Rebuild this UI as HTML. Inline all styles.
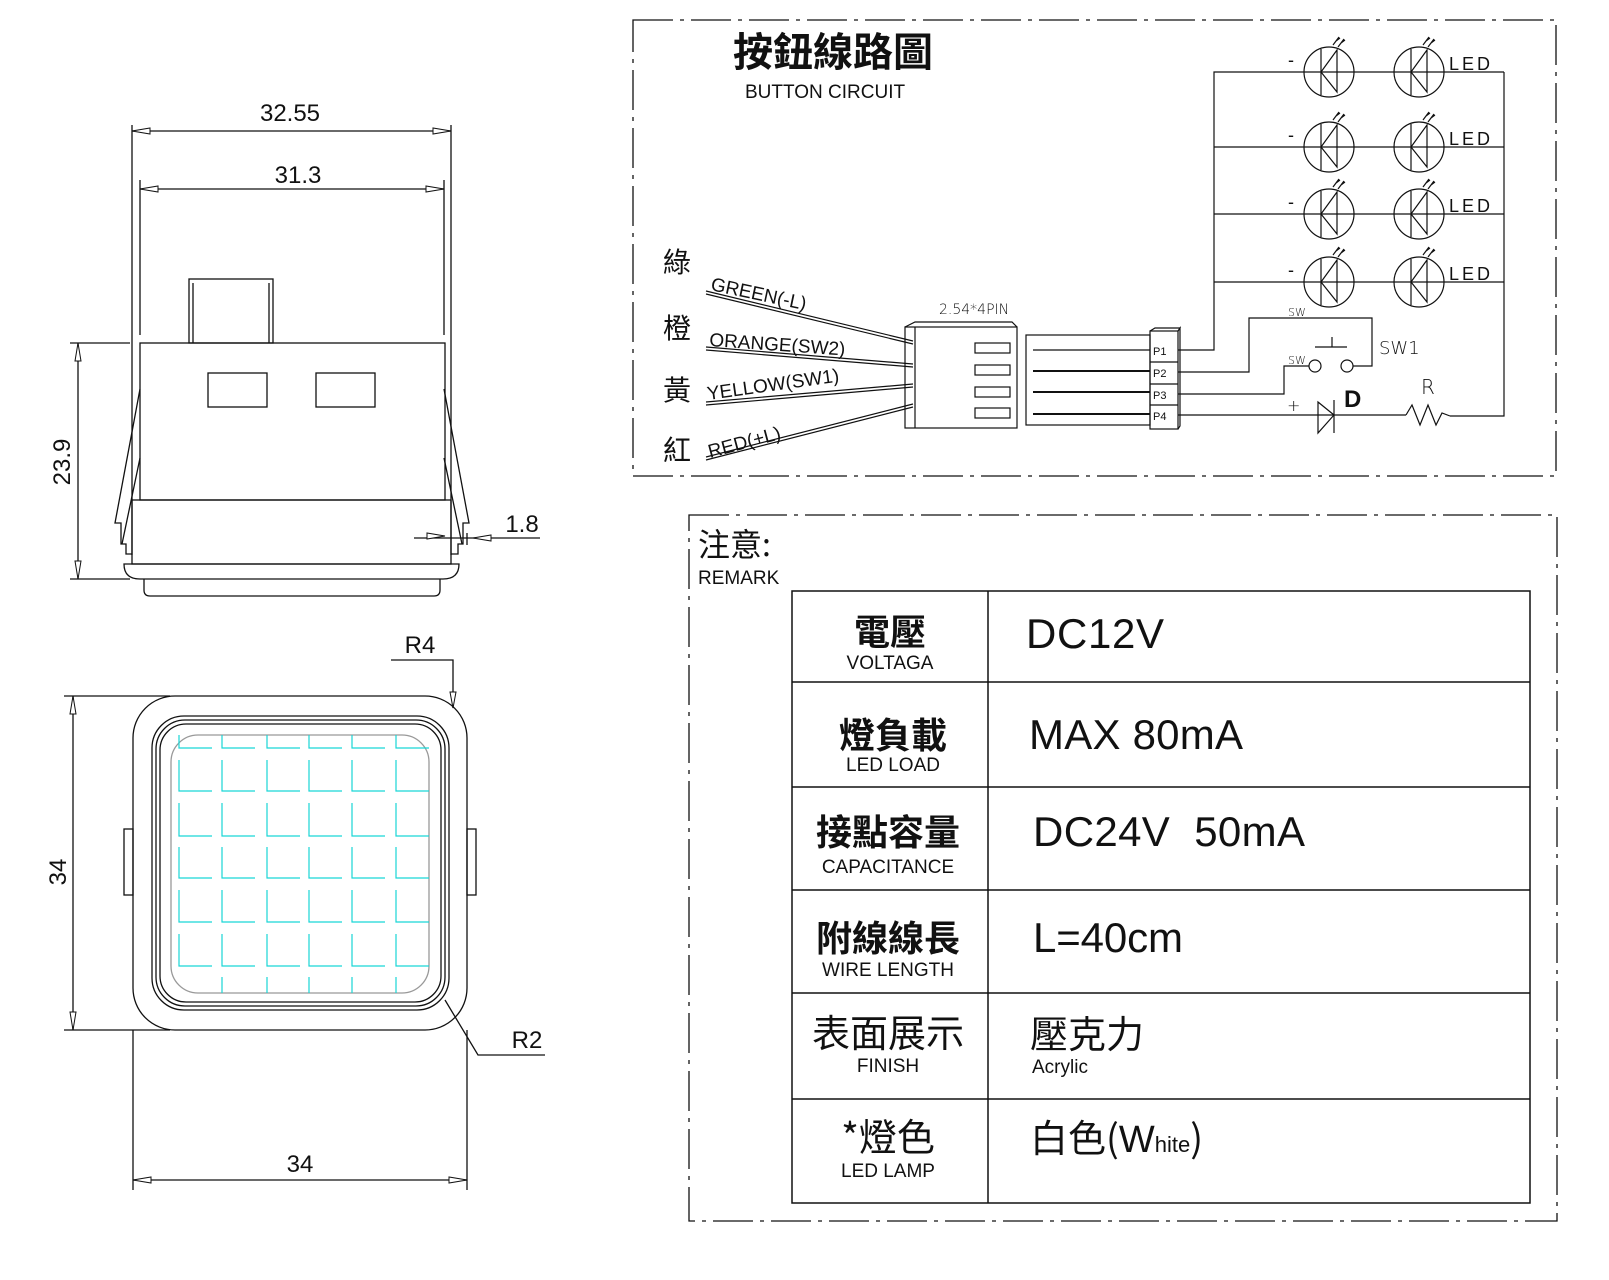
<!DOCTYPE html>
<html><head><meta charset="utf-8"><style>
html,body{margin:0;padding:0;background:#fff;}
svg{display:block;}
text{font-family:"Liberation Sans","Noto Sans CJK TC",sans-serif;fill:#111;}
.cjk{font-family:"Noto Sans CJK TC","Liberation Sans",sans-serif;font-weight:bold;}
.cjkn{font-family:"Noto Sans CJK TC","Liberation Sans",sans-serif;font-weight:normal;}
.th{font-family:"DejaVu Sans","Liberation Sans",sans-serif;font-weight:200;}
</style></head><body>
<svg width="1609" height="1280" viewBox="0 0 1609 1280" xmlns="http://www.w3.org/2000/svg">
<defs>
<g id="led" fill="none" stroke="#111" stroke-width="1.2"><circle cx="0" cy="0" r="25"/><line x1="-8" y1="-23" x2="-8" y2="23"/><path d="M8 -22 L-8 0 L8 20 Z"/><path d="M4 -27 l6 -8 M9 -25 l6 -8 M7 -31 l4 -3 M12 -29 l4 -3"/></g>
</defs>
<g fill="none" stroke="#111" stroke-width="1.3">
<!-- TOP VIEW -->
<line x1="132" y1="125" x2="132" y2="555"/><line x1="451" y1="125" x2="451" y2="555"/>
<line x1="132" y1="131" x2="451" y2="131"/>
<line x1="140" y1="180" x2="140" y2="335"/><line x1="444" y1="180" x2="444" y2="335"/>
<line x1="140" y1="189" x2="444" y2="189"/>
<rect x="189" y="279" width="84" height="64"/><line x1="193" y1="283" x2="193" y2="343"/><line x1="269" y1="283" x2="269" y2="343"/>
<rect x="140" y="343" width="305" height="157"/>
<rect x="208" y="373" width="59" height="34"/><rect x="316" y="373" width="59" height="34"/>
<rect x="132" y="500" width="319" height="64"/>
<path d="M124 564 H459 Q459 579 443 579 H140 Q124 579 124 564 Z"/>
<path d="M144 579 V590 Q144 596 150 596 H434 Q440 596 440 590 V579"/>
<path d="M140 389 L115 523 L121 523 L121 544 L126 544 L126 554 L132 554"/>
<path d="M140 458 L122 544"/>
<path d="M444 389 L469 523 L463 523 L463 544 L458 544 L458 554 L451 554"/>
<path d="M444 458 L462 544"/>
<line x1="70" y1="343" x2="130" y2="343"/><line x1="70" y1="579" x2="130" y2="579"/>
<line x1="78" y1="343" x2="78" y2="579"/>
<line x1="414" y1="538" x2="540" y2="538"/><line x1="467" y1="533" x2="467" y2="545"/>
<!-- BOTTOM VIEW -->
<rect x="133" y="696" width="334" height="334" rx="42"/>
<rect x="124" y="829" width="9" height="66"/><rect x="467" y="829" width="9" height="66"/>
<rect x="152" y="716" width="297" height="294" rx="32"/>
<rect x="156" y="720" width="289" height="286" rx="29"/>
<rect x="160" y="724" width="281" height="278" rx="26"/>
<rect x="171" y="735" width="258" height="258" rx="27" stroke="#999"/>
<line x1="64" y1="696" x2="170" y2="696"/><line x1="64" y1="1030" x2="170" y2="1030"/>
<line x1="73" y1="696" x2="73" y2="1030"/>
<line x1="133" y1="1030" x2="133" y2="1190"/><line x1="467" y1="1030" x2="467" y2="1190"/>
<line x1="133" y1="1180" x2="467" y2="1180"/>
<polyline points="391,660 453,660 453,708"/>
<polyline points="445,1000 478,1055 545,1055"/>
</g>
<g fill="#fff" stroke="#111" stroke-width="1">
<path d="M132 131 l18 -3 v6 z M451 131 l-18 -3 v6 z M140 189 l18 -3 v6 z M444 189 l-18 -3 v6 z"/>
<path d="M78 343 l-3 18 h6 z M78 579 l-3 -18 h6 z M73 696 l-3 18 h6 z M73 1030 l-3 -18 h6 z"/>
<path d="M133 1180 l18 -3 v6 z M467 1180 l-18 -3 v6 z M453 708 l-3 -16 h6 z M445 536 l-18 -3 v6 z M473 538 l18 -3 v6 z"/>
</g>
<g stroke="#19d6d6" stroke-width="1.2" fill="none">
<path d="M179 760 V791 H212 M222 760 V791 H255 M267 760 V791 H300 M309 760 V791 H342 M352 760 V791 H385 M396 760 V791 H429
M179 803 V836 H212 M222 803 V836 H255 M267 803 V836 H300 M309 803 V836 H342 M352 803 V836 H385 M396 803 V836 H429
M179 847 V878 H212 M222 847 V878 H255 M267 847 V878 H300 M309 847 V878 H342 M352 847 V878 H385 M396 847 V878 H429
M179 890 V922 H212 M222 890 V922 H255 M267 890 V922 H300 M309 890 V922 H342 M352 890 V922 H385 M396 890 V922 H429
M179 934 V966 H212 M222 934 V966 H255 M267 934 V966 H300 M309 934 V966 H342 M352 934 V966 H385 M396 934 V966 H429
M179 735 V748 H212 M222 735 V748 H255 M267 735 V748 H300 M309 735 V748 H342 M352 735 V748 H385 M396 735 V748 H429
M222 977 V993 M267 977 V993 M309 977 V993 M352 977 V993 M396 977 V993"/>
</g>
<g class="th" font-size="24">
<text x="290" y="121" text-anchor="middle">32.55</text>
<text x="298" y="183" text-anchor="middle">31.3</text>
<text x="522" y="532" text-anchor="middle">1.8</text>
<text x="300" y="1172" text-anchor="middle">34</text>
<text x="420" y="653" text-anchor="middle">R4</text>
<text x="527" y="1048" text-anchor="middle">R2</text>
<text transform="translate(70,462) rotate(-90)" text-anchor="middle">23.9</text>
<text transform="translate(66,872) rotate(-90)" text-anchor="middle">34</text>
</g>
<!-- CIRCUIT FRAME -->
<rect x="633" y="20" width="923" height="456" fill="none" stroke="#111" stroke-width="1.3" stroke-dasharray="40,7,4,7"/>
<text class="cjk" x="733" y="66" font-size="40">按鈕線路圖</text>
<text x="745" y="98" font-size="19">BUTTON CIRCUIT</text>
<g class="cjkn" font-size="28">
<text x="663" y="272">綠</text><text x="663" y="338">橙</text><text x="663" y="400">黃</text><text x="663" y="460">紅</text>
</g>
<g font-size="19" class="th">
<text transform="translate(710,290) rotate(12)">GREEN(-L)</text>
<text transform="translate(709,346) rotate(4)">ORANGE(SW2)</text>
<text transform="translate(708,400) rotate(-8)">YELLOW(SW1)</text>
<text transform="translate(710,458) rotate(-15)">RED(+L)</text>
</g>
<g fill="none" stroke="#111" stroke-width="1.2">
<path d="M706 291 L913 341 M706 294 L913 344"/>
<path d="M706 347 L913 364 M706 350 L913 367"/>
<path d="M706 402 L913 384 M706 405 L913 387"/>
<path d="M706 457 L913 404 M706 460 L913 407"/>
<rect x="905" y="327" width="112" height="101"/>
<path d="M905 327 L915 322 H1012 L1017 327"/>
<line x1="915" y1="327" x2="915" y2="428"/>
<rect x="975" y="343" width="35" height="10"/><rect x="975" y="365" width="35" height="10"/>
<rect x="975" y="387" width="35" height="10"/><rect x="975" y="408" width="35" height="10"/>
<rect x="1026" y="335" width="124" height="90"/>
<line x1="1033" y1="350" x2="1150" y2="350"/><line x1="1033" y1="371" x2="1150" y2="371" stroke-width="2"/>
<line x1="1033" y1="392" x2="1150" y2="392" stroke-width="2"/><line x1="1033" y1="414" x2="1150" y2="414" stroke-width="2"/>
<rect x="1150" y="331" width="28" height="98"/><path d="M1150 331 L1155 328 H1180 L1178 331 M1178 331 L1180 328 V426 L1178 429"/>
<line x1="1150" y1="362" x2="1178" y2="362"/><line x1="1150" y1="384" x2="1178" y2="384"/><line x1="1150" y1="405" x2="1178" y2="405"/>
<polyline points="1178,350 1214,350 1214,72 1504,72"/>
<line x1="1214" y1="147" x2="1504" y2="147"/><line x1="1214" y1="214" x2="1504" y2="214"/><line x1="1214" y1="282" x2="1504" y2="282"/>
<polyline points="1504,72 1504,416 1450,416"/>
<polyline points="1178,372 1249,372 1249,318 1372,318 1372,366 1353,366"/>
<polyline points="1178,394 1284,394 1284,366 1309,366"/>
<circle cx="1315" cy="366" r="6"/><circle cx="1347" cy="366" r="6"/>
<line x1="1315" y1="347" x2="1347" y2="347"/><line x1="1332" y1="337" x2="1332" y2="347"/>
<line x1="1178" y1="415" x2="1406" y2="415"/>
<path d="M1318 402 L1334 415 L1318 433 Z"/><line x1="1334" y1="400" x2="1334" y2="433"/>
<polyline points="1406,415 1412,405 1420,425 1428,405 1436,425 1442,413 1450,416"/>
</g>
<use href="#led" x="1329" y="72"/><use href="#led" x="1419" y="72"/><use href="#led" x="1329" y="147"/><use href="#led" x="1419" y="147"/>
<use href="#led" x="1329" y="214"/><use href="#led" x="1419" y="214"/><use href="#led" x="1329" y="282"/><use href="#led" x="1419" y="282"/>
<g class="th" font-size="18" letter-spacing="3">
<text x="1449" y="70">LED</text><text x="1449" y="145">LED</text><text x="1449" y="212">LED</text><text x="1449" y="280">LED</text>
<text x="1288" y="66">-</text><text x="1288" y="141">-</text><text x="1288" y="208">-</text><text x="1288" y="276">-</text>
</g>
<text x="939" y="314" font-size="14" class="th">2.54*4PIN</text>
<g font-size="11" class="th"><text x="1153" y="355">P1</text><text x="1153" y="377">P2</text><text x="1153" y="399">P3</text><text x="1153" y="420">P4</text></g>
<text x="1288" y="316" font-size="11" class="th">SW</text><text x="1288" y="364" font-size="11" class="th">SW</text>
<text x="1379" y="354" font-size="18" class="th">SW1</text>
<text x="1287" y="411" font-size="16" class="th">+</text>
<text x="1344" y="407" font-size="24" font-weight="bold">D</text>
<text x="1421" y="394" font-size="20" class="th">R</text>
<!-- NOTES -->
<rect x="689" y="515" width="868" height="706" fill="none" stroke="#111" stroke-width="1.3" stroke-dasharray="40,7,4,7"/>
<text class="cjkn" x="698" y="556" font-size="32">注意:</text>
<text x="698" y="584" font-size="19">REMARK</text>
<g fill="none" stroke="#111" stroke-width="1.5">
<rect x="792" y="591" width="738" height="612"/>
<line x1="988" y1="591" x2="988" y2="1203"/>
<line x1="792" y1="682" x2="1530" y2="682"/><line x1="792" y1="787" x2="1530" y2="787"/>
<line x1="792" y1="890" x2="1530" y2="890"/><line x1="792" y1="993" x2="1530" y2="993"/>
<line x1="792" y1="1099" x2="1530" y2="1099"/>
</g>
<g text-anchor="middle">
<text class="cjk" x="890" y="645" font-size="36">電壓</text><text x="890" y="669" font-size="19">VOLTAGA</text>
<text class="cjk" x="893" y="748" font-size="36">燈負載</text><text x="893" y="771" font-size="19">LED LOAD</text>
<text class="cjk" x="888" y="845" font-size="36">接點容量</text><text x="888" y="873" font-size="19">CAPACITANCE</text>
<text class="cjk" x="888" y="951" font-size="36">附線線長</text><text x="888" y="976" font-size="19">WIRE LENGTH</text>
<text class="cjkn" x="888" y="1047" font-size="38">表面展示</text><text x="888" y="1072" font-size="19">FINISH</text>
<text class="cjkn" x="888" y="1151" font-size="38">*燈色</text><text x="888" y="1177" font-size="19">LED LAMP</text>
</g>
<g font-size="42">
<text x="1026" y="648" textLength="138">DC12V</text>
<text x="1029" y="749" textLength="214">MAX 80mA</text>
<text x="1033" y="846" textLength="272" xml:space="preserve">DC24V  50mA</text>
<text x="1033" y="952" textLength="150">L=40cm</text>
<text class="cjkn" x="1030" y="1048" font-size="38">壓克力</text>
<text x="1032" y="1073" font-size="19">Acrylic</text>
<text class="cjkn" x="1030" y="1152" font-size="38">白色(<tspan font-family="Liberation Sans">W</tspan><tspan font-family="Liberation Sans" font-size="22">hite</tspan>)</text>
</g>
</svg>
</body></html>
